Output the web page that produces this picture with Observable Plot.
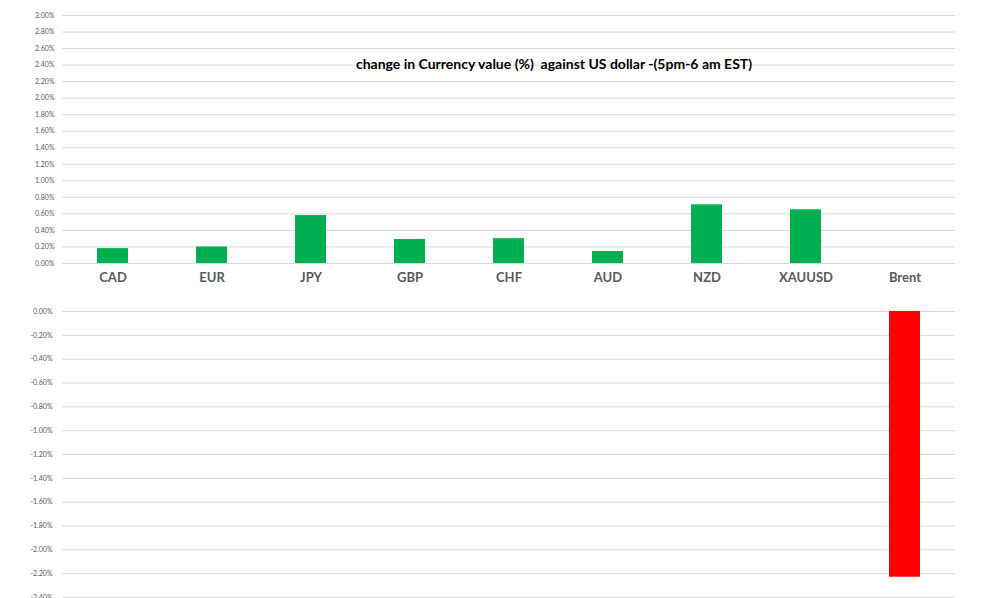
<!DOCTYPE html>
<html>
<head>
<meta charset="utf-8">
<script src="https://cdn.jsdelivr.net/npm/d3@7"></script>
<script src="https://cdn.jsdelivr.net/npm/@observablehq/plot@0.6"></script>
<style>
  html, body { margin: 0; padding: 0; background: #fff; overflow: hidden; }
  #chart svg { display: block; }
</style>
</head>
<body>
<div id="chart"></div>
<script>
const categories = ["CAD", "EUR", "JPY", "GBP", "CHF", "AUD", "NZD", "XAUUSD", "Brent"];
const values = [0.18, 0.20, 0.58, 0.29, 0.30, 0.145, 0.71, 0.65, -2.23];
const topTicks = [0, 0.2, 0.4, 0.6, 0.8, 1.0, 1.2, 1.4, 1.6, 1.8, 2.0, 2.2, 2.4, 2.6, 2.8, 3.0];
const bottomTicks = [0, -0.2, -0.4, -0.6, -0.8, -1.0, -1.2, -1.4, -1.6, -1.8, -2.0, -2.2, -2.4];
const titleText = "change in Currency value (%)  against US dollar -(5pm-6 am EST)";

const data = categories.map((c, i) => ({ category: c, value: values[i] }));
const fmt = d => d.toFixed(2) + "%";
const grid = "#d9d9d9";
const W = 987;

const xScale = { domain: categories, paddingInner: 0.69, paddingOuter: 0.345 };

const upperPlot = Plot.plot({
  width: W,
  height: 290,
  marginLeft: 62,
  marginRight: 32,
  marginTop: 15,
  marginBottom: 27,
  style: { fontFamily: "Lato, sans-serif", background: "#fff" },
  x: { ...xScale, axis: null },
  y: { domain: [0, 3], axis: null },
  marks: [
    Plot.ruleY(topTicks, { stroke: grid, strokeWidth: 1 }),
    Plot.barY(data.filter(d => d.value > 0), { x: "category", y: "value", fill: "#00B050" }),
    Plot.axisY({ ticks: topTicks, tickSize: 0, tickPadding: 8, tickFormat: fmt, fontSize: 7, color: "#595959", label: null }),
    Plot.axisX({ tickSize: 0, tickPadding: 9, fontSize: 13, fontWeight: "bold", color: "#595959", label: null }),
    Plot.text([titleText], { frameAnchor: "top", dx: 45, dy: 44, text: d => d, fontSize: 14, fontWeight: "bold", fill: "#000" })
  ]
});

const lowerPlot = Plot.plot({
  width: W,
  height: 317,
  marginLeft: 62,
  marginRight: 32,
  marginTop: 21,
  marginBottom: 10,
  style: { fontFamily: "Lato, sans-serif", background: "#fff" },
  x: { ...xScale, axis: null },
  y: { domain: [-2.4, 0], axis: null },
  marks: [
    Plot.ruleY(bottomTicks, { stroke: grid, strokeWidth: 1 }),
    Plot.barY(data.filter(d => d.value < 0), { x: "category", y: "value", fill: "#FF0000" }),
    Plot.axisY({ ticks: bottomTicks, tickSize: 0, tickPadding: 10, tickFormat: fmt, fontSize: 7, color: "#595959", label: null })
  ]
});

const chart = document.getElementById("chart");
chart.appendChild(upperPlot);
chart.appendChild(lowerPlot);
</script>
</body>
</html>
